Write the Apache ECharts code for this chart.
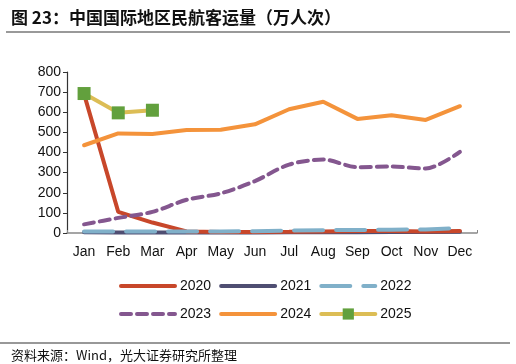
<!DOCTYPE html>
<html><head><meta charset="utf-8">
<script src="https://cdn.jsdelivr.net/npm/echarts@6/dist/echarts.min.js"></script>
<style>html,body{margin:0;padding:0;background:#fff;}#c{width:516px;height:364px;}</style>
</head><body><div id="c"></div>
<script>
const months = ['Jan','Feb','Mar','Apr','May','Jun','Jul','Aug','Sep','Oct','Nov','Dec'];
const s2020 = [690,105,52,8,5,5,6,8,10,10,8,10];
const s2021 = [4,3,3,3,3,3,4,4,4,5,5,6];
const s2022 = [8,8,8,8,8,9,12,14,15,16,18,24];
const s2023 = [43,75,105,165,197,258,340,365,327,330,320,403];
const s2024 = [436,495,492,512,513,540,615,652,567,585,562,630];
const s2025 = [693,597,610];
const yTicks = [0,100,200,300,400,500,600,700,800];

const chart = echarts.init(document.getElementById('c'));
const font = 'Liberation Sans, Arial, sans-serif';
const colors = {'2020':'#c8472a','2021':'#4f4e72','2022':'#80b0c9','2023':'#84578f','2024':'#f4933b','2025':'#dcbd55'};
const dashes = {'2020':'solid','2021':'solid','2022':[29,13],'2023':[10,6],'2024':'solid','2025':'solid'};
function line(name, data, extra){
  return Object.assign({
    name, type:'line', data, symbol:'none', showSymbol:false,
    lineStyle:{color:colors[name], width:4, type:dashes[name], cap:'round'},
    itemStyle:{color:colors[name]}
  }, extra||{});
}
function legItem(name){
  const it = {name, lineStyle:{width:4, color:colors[name], type:dashes[name], cap:'round'}};
  if(name !== '2025') it.itemStyle = {opacity:0};
  return it;
}
const legText = {fontFamily:font, fontSize:14, color:'#111'};
chart.setOption({
  animation:false,
  title:[{text:'图 23：中国国际地区民航客运量（万人次）', left:6, top:4,
    textStyle:{fontFamily:'Noto Sans CJK SC', fontSize:17, fontWeight:'bold', color:'#111'}},
    {text:'资料来源：Wind，光大证券研究所整理', left:6, top:344,
    textStyle:{fontFamily:'Noto Sans CJK SC', fontSize:13, fontWeight:'normal', color:'#111'}}],
  graphic:[
    {type:'line', shape:{x1:6,y1:32,x2:510,y2:32}, style:{stroke:'#777', lineWidth:1.5}},
    {type:'line', shape:{x1:0,y1:343,x2:510,y2:343}, style:{stroke:'#333', lineWidth:1.2}}
  ],
  grid:{left:67, right:39, top:72, bottom:131},
  legend:[
    {data:['2020','2021','2022'].map(legItem), left:114, top:274, itemWidth:54, itemHeight:14, itemGap:8, textStyle:legText},
    {data:['2023','2024','2025'].map(legItem), left:114, top:302, itemWidth:54, itemHeight:14, itemGap:8, textStyle:legText}
  ],
  xAxis:{type:'category', data:months, boundaryGap:true,
    axisLine:{lineStyle:{color:'#888', width:1.5}},
    axisTick:{show:true, inside:true, length:3, lineStyle:{color:'#888'}},
    axisLabel:{fontFamily:font, fontSize:14, color:'#111', margin:12, interval:0}},
  yAxis:{type:'value', min:0, max:800, interval:100,
    axisLine:{show:true, lineStyle:{color:'#333', width:1.2}},
    axisTick:{show:true, length:4, lineStyle:{color:'#333'}},
    splitLine:{show:false},
    axisLabel:{fontFamily:font, fontSize:14, color:'#111', margin:6,
      formatter:v=>yTicks.includes(v)?String(v):''}},
  series:[
    line('2020', s2020, {z:3}),
    line('2021', s2021, {z:2}),
    line('2022', s2022, {z:4}),
    line('2023', s2023, {smooth:0.3}),
    line('2024', s2024),
    line('2025', s2025, {symbol:'rect', symbolSize:13, showSymbol:true,
      itemStyle:{color:'#62a03d'}})
  ]
});
</script></body></html>
